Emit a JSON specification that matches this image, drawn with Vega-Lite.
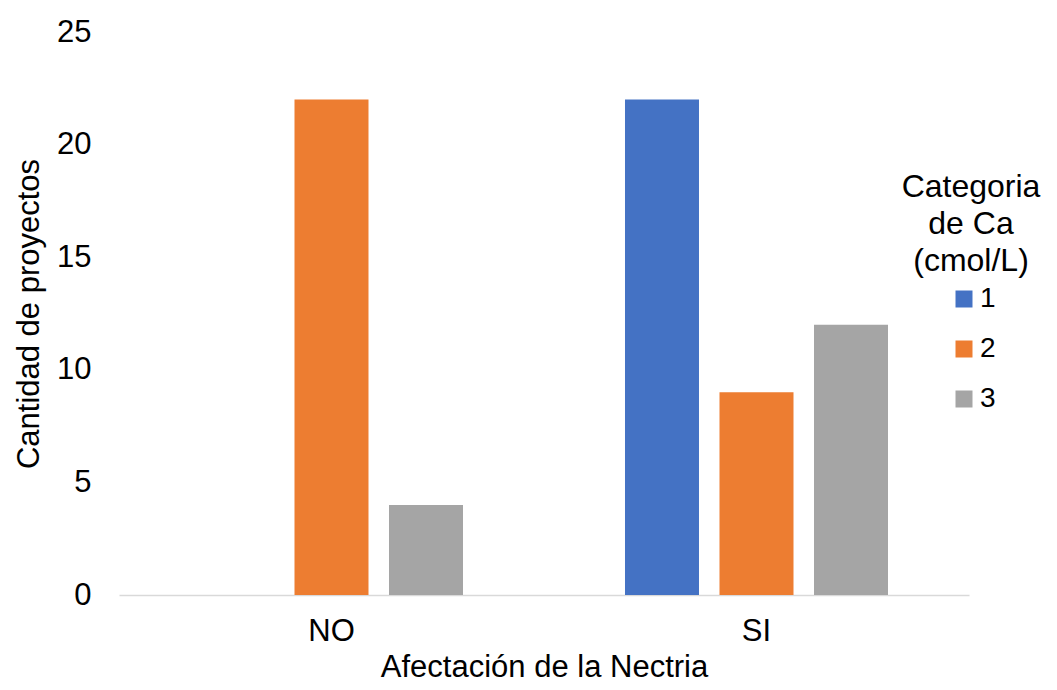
{
  "$schema": "https://vega.github.io/schema/vega-lite/v6.json",
  "autosize": {"type": "none"},
  "width": 850,
  "height": 563,
  "padding": {"left": 119, "top": 32, "right": 88, "bottom": 95},
  "background": "white",
  "config": {
    "font": "Liberation Sans",
    "view": {"stroke": null}
  },
  "data": {
    "values": [
      {"afectacion": "NO", "categoria": "1", "cantidad": 0},
      {"afectacion": "NO", "categoria": "2", "cantidad": 22},
      {"afectacion": "NO", "categoria": "3", "cantidad": 4},
      {"afectacion": "SI", "categoria": "1", "cantidad": 22},
      {"afectacion": "SI", "categoria": "2", "cantidad": 9},
      {"afectacion": "SI", "categoria": "3", "cantidad": 12}
    ]
  },
  "mark": {"type": "bar"},
  "encoding": {
    "x": {
      "field": "afectacion",
      "type": "nominal",
      "title": "Afectación de la Nectria",
      "scale": {"paddingInner": 0, "paddingOuter": 0},
      "axis": {
        "labelAngle": 0,
        "labelFontSize": 31,
        "labelColor": "#000000",
        "labelPadding": 21,
        "ticks": false,
        "domainColor": "#D9D9D9",
        "domainWidth": 1.5,
        "titleFontSize": 31,
        "titleFontWeight": "normal",
        "titleColor": "#000000",
        "titlePadding": 6
      }
    },
    "xOffset": {
      "field": "categoria",
      "type": "nominal",
      "scale": {"paddingInner": 0.217, "paddingOuter": 0.857}
    },
    "y": {
      "field": "cantidad",
      "type": "quantitative",
      "title": "Cantidad de proyectos",
      "scale": {"domain": [0, 25], "nice": false},
      "axis": {
        "values": [0, 5, 10, 15, 20, 25],
        "grid": false,
        "domain": false,
        "ticks": false,
        "labelFontSize": 31,
        "labelColor": "#000000",
        "labelPadding": 28,
        "titleFontSize": 31,
        "titleFontWeight": "normal",
        "titleColor": "#000000",
        "titlePadding": 11
      }
    },
    "color": {
      "field": "categoria",
      "type": "nominal",
      "scale": {"domain": ["1", "2", "3"], "range": ["#4472C4", "#ED7D31", "#A5A5A5"]},
      "legend": {
        "title": ["Categoria", "de Ca", "(cmol/L)"],
        "orient": "none",
        "legendX": 783,
        "legendY": 140,
        "titleFontSize": 32,
        "titleFontWeight": "normal",
        "titleColor": "#000000",
        "titleLineHeight": 37,
        "titleAlign": "center",
        "titleAnchor": "middle",
        "titlePadding": 7,
        "symbolType": "square",
        "symbolSize": 289,
        "symbolStrokeWidth": 0,
        "symbolOffset": 3,
        "labelFontSize": 28,
        "labelColor": "#000000",
        "labelOffset": 2,
        "rowPadding": 22
      }
    }
  }
}
